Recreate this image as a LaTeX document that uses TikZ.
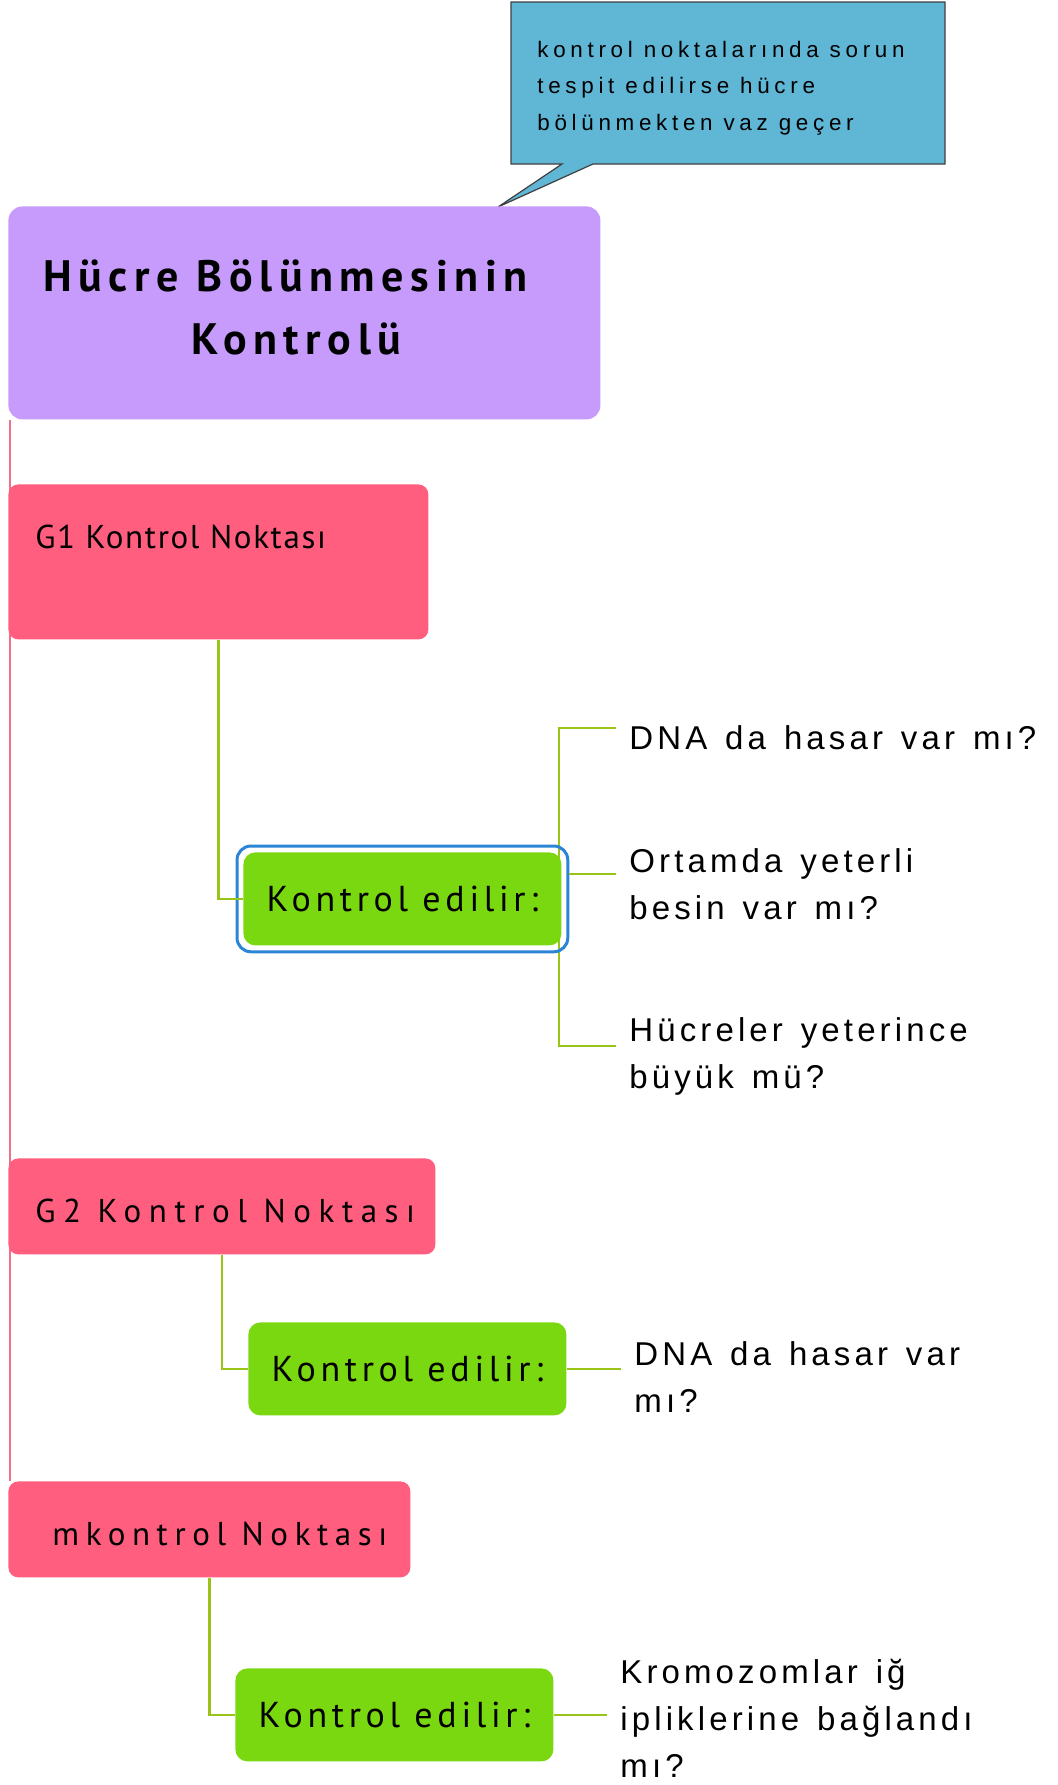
\documentclass[tikz,border=0pt]{standalone}
\usepackage{fontspec}
\setmainfont{Liberation Sans}
\newfontfamily\baslikfont[LetterSpace=15]{PT Sans}
\newfontfamily\kutufont[LetterSpace=5]{PT Sans}
\newfontfamily\genisfont[LetterSpace=23]{PT Sans}
\newfontfamily\ortafont[LetterSpace=20]{PT Sans}
\newfontfamily\kontrolfont[LetterSpace=13]{PT Sans}
\newfontfamily\sorufont[LetterSpace=12.5,WordSpace=1.35]{Liberation Sans}
\newfontfamily\balonfont[LetterSpace=21]{Liberation Sans}
\usetikzlibrary{fit,backgrounds}

\definecolor{mor}{HTML}{C69BFB}
\definecolor{pembe}{HTML}{FF5E7E}
\definecolor{yesil}{HTML}{7AD811}
\definecolor{dalrengi}{HTML}{9AC318}
\definecolor{balon}{HTML}{5FB6D5}
\definecolor{secimmavi}{HTML}{2B85D6}
\definecolor{anahat}{HTML}{F0708A}

\begin{document}
\begin{tikzpicture}[x=0.5pt,y=-0.5pt,
    kutu/.style={fill=pembe, rounded corners=5pt, anchor=north west, inner sep=0pt},
    kutuyazi/.style={anchor=west, inner sep=0pt},
    kontrol/.style={fill=yesil, rounded corners=6pt, anchor=north west, inner sep=0pt,
      minimum width=159pt, minimum height=46.5pt, font=\kontrolfont\fontsize{18}{21}\selectfont},
    secim/.style={draw=secimmavi, line width=1.5pt, rounded corners=7pt, inner sep=3pt},
    soru/.style={anchor=west, align=left, inner xsep=6.5pt, inner ysep=0pt,
      font=\sorufont\fontsize{16.5}{23.5}\selectfont},
    dal/.style={draw=dalrengi, line width=1.3pt},
    incedal/.style={draw=dalrengi, line width=0.9pt}]
      \useasboundingbox (0,0) rectangle (1057,1785);

      \filldraw[fill=balon, draw=black!75, line width=0.6pt] (511,2) -- (945,2) -- (945,164)
        -- (593,164) -- (498,207) -- (562,164) -- (511,164) -- cycle;
      \node[anchor=west, align=left, inner sep=0pt, font=\balonfont\fontsize{11.2}{18.25}\selectfont]
        (uyari) at (537,88) {kontrol noktalarında sorun\\tespit edilirse hücre\\bölünmekten vaz geçer};

      \node[fill=mor, rounded corners=7pt, anchor=north west, minimum width=296pt, minimum height=106.5pt,
        align=center, text depth=6pt, font=\baslikfont\bfseries\fontsize{22}{31.5}\selectfont]
        (baslik) at (8,206) {Hücre Bölünmesinin\hspace*{19pt}\\Kontrolü\hspace*{8pt}};

      \node[kutu, minimum width=210pt, minimum height=77.5pt] (g1) at (8,484) {};
      \node[kutuyazi, font=\kutufont\fontsize{16.5}{19}\selectfont] (g1yazi) at (35,537) {G1 Kontrol Noktası};
      \node[kutu, minimum width=213.5pt, minimum height=48pt] (g2) at (8,1158) {};
      \node[kutuyazi, font=\genisfont\fontsize{16.5}{19}\selectfont] (g2yazi) at (35,1211) {G2 Kontrol Noktası};
      \node[kutu, minimum width=201pt, minimum height=48pt] (mk) at (8,1481) {};
      \node[kutuyazi, font=\ortafont\fontsize{16.5}{19}\selectfont] (mkyazi) at (52,1534) {mkontrol Noktası};

      \node[kontrol] (kontrolA) at (243,852) {Kontrol edilir:};
      \node[secim, fit=(kontrolA)] (secimA) {};
      \node[kontrol] (kontrolB) at (248,1322) {Kontrol edilir:};
      \node[kontrol] (kontrolC) at (235,1668) {Kontrol edilir:};

      \node[soru] (soruA1) at (616,738) {DNA da hasar var mı?};
      \node[soru] (soruA2) at (616,884) {Ortamda yeterli\\besin var mı?};
      \node[soru] (soruA3) at (616,1056) {Hücreler yeterince\\büyük mü?};
      \node[soru] (soruB) at (621,1377) {DNA da hasar var\\mı?};
      \node[soru] (soruC) at (607,1718) {Kromozomlar iğ\\ipliklerine bağlandı\\mı?};

      \coordinate (A2uc) at ([yshift=5pt]soruA2.west);

      \begin{scope}[on background layer]
        \draw[anahat, line width=0.8pt] ([xshift=1pt]baslik.south west) -- ([xshift=1pt]mk.north west);
        \draw[incedal] ([yshift=5pt]soruA1.west) -| ([xshift=-1.5pt]kontrolA.east) |- ([yshift=5pt]soruA3.west);
      \end{scope}

      \draw[dal] (g1.south) |- (kontrolA.west);
      \draw[dal] (g2.south) |- (kontrolB.west);
      \draw[dal] (mk.south) |- (kontrolC.west);
      \draw[incedal] (A2uc) -- (A2uc -| secimA.east);
      \draw[incedal] (kontrolB.east) -- (kontrolB.east -| soruB.west);
      \draw[incedal] (kontrolC.east) -- (kontrolC.east -| soruC.west);
    \end{tikzpicture}
\end{document}
